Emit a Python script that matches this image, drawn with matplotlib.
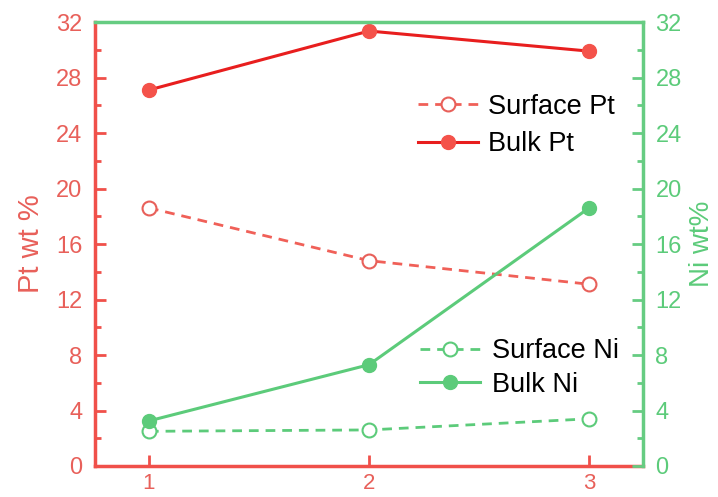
import matplotlib
matplotlib.use("Agg")
import matplotlib.pyplot as plt
from matplotlib.ticker import MultipleLocator

plt.rcParams['font.family'] = ['Liberation Sans', 'DejaVu Sans']

samples = [1, 2, 3]
surface_pt = [18.6, 14.8, 13.1]
bulk_pt = [27.1, 31.35, 29.9]
surface_ni = [2.5, 2.6, 3.4]
bulk_ni = [3.25, 7.3, 18.6]

y_ticks = [0, 4, 8, 12, 16, 20, 24, 28, 32]

RED_AX = '#f0504a'
RED_TXT = '#e8605a'
RED_LINE = '#e81e1e'
RED_MK = '#f4524a'
RED_DASH = '#f06058'
GREEN = '#5ccb7a'
GREEN_AX = '#66cc82'

fig = plt.figure(figsize=(7.18, 4.97), dpi=100)
ax1 = fig.add_axes([95/718, 1-466/497, (643-95)/718, (466-22)/497])
ax2 = ax1.twinx()

ax1.plot(samples, surface_pt, ls=(0, (3.5, 2.5)), lw=2, color=RED_DASH,
         marker='o', ms=10, mfc='white', mec=RED_TXT, mew=1.5, label='Surface Pt')
ax1.plot(samples, bulk_pt, ls='-', lw=2.2, color=RED_LINE,
         marker='o', ms=10, mfc=RED_MK, mec=RED_MK, label='Bulk Pt')

ax2.plot(samples, surface_ni, ls=(0, (3.5, 2.5)), lw=2, color=GREEN,
         marker='o', ms=10, mfc='white', mec=GREEN, mew=1.5, label='Surface Ni')
ax2.plot(samples, bulk_ni, ls='-', lw=2.2, color=GREEN,
         marker='o', ms=10, mfc=GREEN, mec=GREEN, label='Bulk Ni')

for ax in (ax1, ax2):
    ax.set_xlim(0.755, 3.245)
    ax.set_ylim(0, 32)
    ax.set_yticks(y_ticks)
    ax.yaxis.set_minor_locator(MultipleLocator(2))

ax1.set_xticks(samples)
ax1.tick_params(axis='x', direction='in', length=8, width=2, colors=RED_AX,
                labelcolor=RED_TXT, labelsize=16, pad=5, top=False)
ax1.tick_params(axis='y', which='major', direction='in', length=8, width=2,
                colors=RED_AX, labelcolor=RED_TXT, labelsize=17, pad=9)
ax1.tick_params(axis='y', which='minor', direction='in', length=4, width=2, colors=RED_AX)
ax2.tick_params(axis='y', which='major', direction='in', length=8, width=2,
                colors=GREEN_AX, labelcolor=GREEN, labelsize=17, pad=9)
ax2.tick_params(axis='y', which='minor', direction='in', length=4, width=2, colors=GREEN_AX)

for ax in (ax1, ax2):
    for s in ax.spines.values():
        s.set_linewidth(2.5)
ax1.spines['left'].set_color(RED_AX)
ax1.spines['bottom'].set_color(RED_AX)
ax1.spines['top'].set_visible(False)
ax1.spines['right'].set_visible(False)
ax2.spines['left'].set_visible(False)
ax2.spines['bottom'].set_visible(False)
ax2.spines['top'].set_color(GREEN_AX)
ax2.spines['right'].set_color(GREEN_AX)
ax1.spines['bottom'].set_zorder(5)

ax1.set_ylabel('Pt wt %', color=RED_TXT, fontsize=21, labelpad=8)
ax2.set_ylabel('Ni wt%', color=GREEN, fontsize=20, rotation=90, labelpad=5)

ax1.legend(loc='center left', bbox_to_anchor=(418/718, 1-125.5/497),
           bbox_transform=fig.transFigure, frameon=False, fontsize=19.5,
           borderpad=0, borderaxespad=0, handlelength=2.2,
           handletextpad=0.4, labelspacing=0.42)
ax2.legend(loc='center left', bbox_to_anchor=(420/718, 1-368/497),
           bbox_transform=fig.transFigure, frameon=False, fontsize=19.5,
           borderpad=0, borderaxespad=0, handlelength=2.2,
           handletextpad=0.45, labelspacing=0.28)

fig.savefig('out.png', dpi=100)
